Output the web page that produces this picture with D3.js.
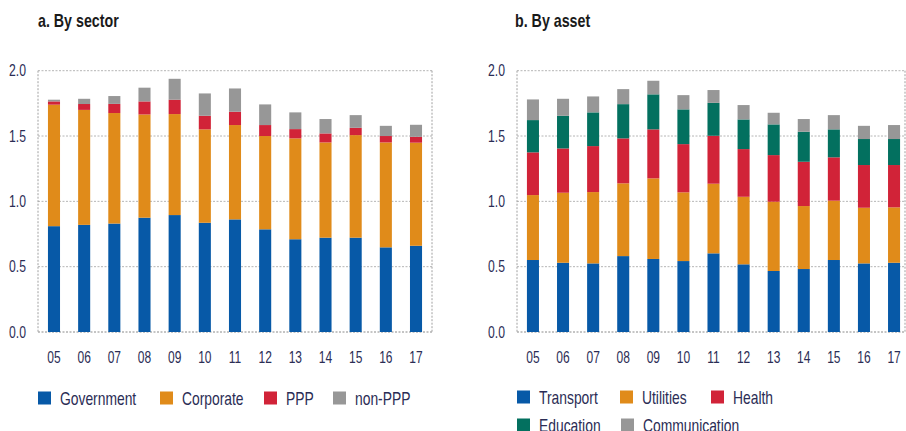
<!DOCTYPE html>
<html>
<head>
<meta charset="utf-8">
<script src="https://cdn.jsdelivr.net/npm/d3@7.9.0/dist/d3.min.js"></script>
<style>
  body { margin: 0; background: #fff; }
  svg text { font-family: "Liberation Sans", Arial, sans-serif; fill: #2b2d55; }
</style>
</head>
<body>
<svg id="chart" width="906" height="431"></svg>
<script>
const years = ['05', '06', '07', '08', '09', '10', '11', '12', '13', '14', '15', '16', '17'];
const yTicks = [0, 0.5, 1, 1.5, 2];

// panel a: by sector
const sectorKeys = ['Government', 'Corporate', 'PPP', 'non-PPP'];
const government = [0.81, 0.82, 0.83, 0.875, 0.895, 0.836, 0.862, 0.786, 0.71, 0.722, 0.722, 0.648, 0.66];
const corporate  = [0.93, 0.88, 0.846, 0.79, 0.773, 0.715, 0.722, 0.714, 0.772, 0.729, 0.785, 0.803, 0.789];
const ppp        = [0.025, 0.045, 0.07, 0.1, 0.11, 0.104, 0.102, 0.084, 0.071, 0.069, 0.056, 0.049, 0.045];
const nonPpp     = [0.013, 0.04, 0.06, 0.105, 0.16, 0.171, 0.178, 0.158, 0.128, 0.11, 0.097, 0.078, 0.092];

// panel b: by asset
const assetKeys = ['Transport', 'Utilities', 'Health', 'Education', 'Communication'];
const transport     = [0.551, 0.53, 0.525, 0.581, 0.559, 0.543, 0.602, 0.518, 0.467, 0.482, 0.551, 0.525, 0.53];
const utilities     = [0.497, 0.536, 0.546, 0.557, 0.617, 0.526, 0.533, 0.517, 0.53, 0.482, 0.454, 0.426, 0.424];
const health        = [0.327, 0.339, 0.352, 0.344, 0.375, 0.369, 0.367, 0.365, 0.357, 0.339, 0.332, 0.327, 0.324];
const education     = [0.247, 0.25, 0.258, 0.262, 0.268, 0.266, 0.252, 0.227, 0.235, 0.23, 0.214, 0.199, 0.199];
const communication = [0.158, 0.13, 0.122, 0.115, 0.104, 0.109, 0.098, 0.11, 0.089, 0.097, 0.109, 0.101, 0.107];

const blue = '#0759a7', orange = '#e08b1a', red = '#d12338', grey = '#979797', teal = '#03705f';

function buildRows(keys, series) {
  return years.map((y, i) => {
    const row = { year: y };
    keys.forEach((k, j) => row[k] = series[j][i]);
    return row;
  });
}

// condensed look: squeeze text horizontally
function place(sel, fx, fy, k) {
  return sel.attr('transform', (d, i) => `translate(${fx(d, i)},${fy(d, i)}) scale(${k},1)`);
}

const svg = d3.select('#chart');

function drawPanel(opt) {
  const g = svg.append('g');
  const x = d3.scaleBand().domain(years).range([opt.left, opt.right]).paddingInner(0.6).paddingOuter(0.33);
  const y = d3.scaleLinear().domain([0, 2]).range([332, 70.7]);

  place(g.append('text'), () => opt.titleX, () => 27, 0.75)
    .attr('font-size', 19).attr('font-weight', 'bold')
    .style('fill', '#1a1a1a')
    .text(opt.title);

  // grid + frame (dotted)
  g.selectAll('line.grid')
    .data(yTicks)
    .join('line')
    .attr('x1', opt.left).attr('x2', opt.frameRight)
    .attr('y1', d => y(d)).attr('y2', d => y(d))
    .attr('stroke', d => d === 0 ? '#8a8a8a' : '#b5b5b5')
    .attr('stroke-width', 1)
    .attr('stroke-dasharray', '2,1.5');

  [opt.left, opt.frameRight].forEach(xx => {
    g.append('line')
      .attr('x1', xx).attr('x2', xx)
      .attr('y1', y(2)).attr('y2', y(0))
      .attr('stroke', '#a0a0a0')
      .attr('stroke-dasharray', '2,1.5');
  });

  place(g.selectAll('text.ytick').data(yTicks).join('text'),
      () => opt.left - 12, d => y(d) + 5.5, 0.74)
    .attr('text-anchor', 'end')
    .attr('font-size', 16.5)
    .text(d => d3.format('.1f')(d));

  const stack = d3.stack().keys(opt.keys)(buildRows(opt.keys, opt.series));
  const color = d3.scaleOrdinal().domain(opt.keys).range(opt.colors);

  g.selectAll('g.layer')
    .data(stack)
    .join('g')
    .attr('fill', d => color(d.key))
    .selectAll('rect')
    .data(d => d)
    .join('rect')
    .attr('x', d => x(d.data.year))
    .attr('width', x.bandwidth())
    .attr('y', d => y(d[1]))
    .attr('height', d => y(d[0]) - y(d[1]));

  place(g.selectAll('text.xtick').data(years).join('text'),
      d => x(d) + x.bandwidth() / 2, () => 362.5, 0.75)
    .attr('text-anchor', 'middle')
    .attr('font-size', 16)
    .text(d => d);

  const leg = g.selectAll('g.leg')
    .data(opt.legend)
    .join('g')
    .attr('transform', d => `translate(${d.x},${d.y})`);
  leg.append('rect')
    .attr('x', 0).attr('y', -6.5)
    .attr('width', 13).attr('height', 13)
    .attr('fill', d => color(d.key));
  place(leg.append('text'), () => 22, () => 6.5, 0.77)
    .attr('font-size', 18)
    .text(d => d.key);
}

drawPanel({
  title: 'a. By sector', titleX: 38,
  left: 38, right: 432, frameRight: 432,
  keys: sectorKeys,
  series: [government, corporate, ppp, nonPpp],
  colors: [blue, orange, red, grey],
  legend: [
    { key: 'Government', x: 38, y: 398 },
    { key: 'Corporate', x: 160, y: 398 },
    { key: 'PPP', x: 264, y: 398 },
    { key: 'non-PPP', x: 333, y: 398 }
  ]
});

drawPanel({
  title: 'b. By asset', titleX: 515,
  left: 517, right: 910, frameRight: 905,
  keys: assetKeys,
  series: [transport, utilities, health, education, communication],
  colors: [blue, orange, red, teal, grey],
  legend: [
    { key: 'Transport', x: 517, y: 397 },
    { key: 'Utilities', x: 620, y: 397 },
    { key: 'Health', x: 711, y: 397 },
    { key: 'Education', x: 517, y: 425 },
    { key: 'Communication', x: 621, y: 425 }
  ]
});
</script>
</body>
</html>
